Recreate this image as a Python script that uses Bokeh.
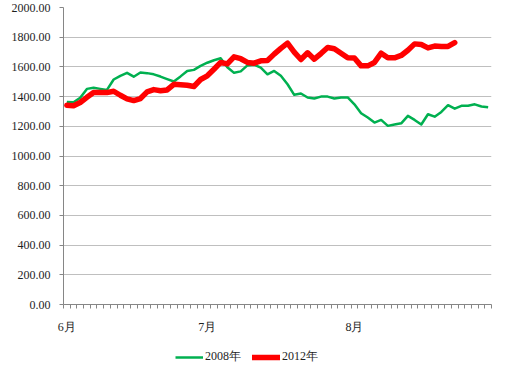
from bokeh.plotting import figure
from bokeh.layouts import column
from bokeh.models import (Range1d, FixedTicker, SingleIntervalTicker, NumeralTickFormatter,
                          Legend, LegendItem)
from bokeh.embed import file_html
from bokeh.resources import INLINE

# ---- data (trading-day index, June-August) ----
month_labels = ["6月", "7月", "8月"]
month_start_index = [0, 21, 43]
series_names = ["2008年", "2012年"]

price_2008 = [1364, 1362, 1392, 1452, 1459, 1452, 1445, 1515, 1540, 1560,
              1534, 1562, 1558, 1550, 1535, 1518, 1502, 1536, 1573, 1580,
              1607, 1628, 1645, 1658, 1598, 1560, 1570, 1610, 1615, 1595,
              1550, 1573, 1540, 1483, 1412, 1421, 1394, 1387, 1400, 1400,
              1387, 1394, 1394, 1348, 1288, 1259, 1225, 1243, 1203, 1212,
              1220, 1270, 1243, 1212, 1281, 1265, 1297, 1342, 1319, 1338,
              1338, 1348, 1333, 1328]

price_2012 = [1342, 1338, 1360, 1395, 1427, 1427, 1427, 1436, 1409, 1385,
              1373, 1387, 1432, 1447, 1440, 1445, 1483, 1480, 1476, 1468,
              1515, 1540, 1584, 1630, 1620, 1668, 1655, 1630, 1625, 1641,
              1643, 1686, 1725, 1760, 1700, 1650, 1695, 1652, 1690, 1731,
              1722, 1692, 1661, 1660, 1607, 1607, 1630, 1692, 1661, 1661,
              1677, 1712, 1755, 1751, 1728, 1740, 1737, 1738, 1764]

n_cat = len(price_2008)
x08 = [i + 0.5 for i in range(len(price_2008))]
x12 = [i + 0.5 for i in range(len(price_2012))]

FONT = "serif"
AXIS_C = "#868686"
TEXT_C = "#1e1e1e"
GREEN = "#00B050"
RED = "#FF0000"

# ---------------- main chart ----------------
p = figure(width=513, height=338, output_backend="svg", toolbar_location=None,
           x_range=Range1d(0, n_cat), y_range=Range1d(0, 2000),
           min_border_left=63, min_border_right=22, min_border_top=7, min_border_bottom=34)
p.outline_line_color = None
p.background_fill_color = "white"
p.border_fill_color = "white"

p.xgrid.visible = False
p.ygrid.grid_line_color = "#bfbfbf"
p.ygrid.grid_line_width = 1

# y axis
p.yaxis.ticker = SingleIntervalTicker(interval=200)
p.yaxis.formatter = NumeralTickFormatter(format="0.00")
p.yaxis.axis_line_color = AXIS_C
p.yaxis.major_tick_line_color = AXIS_C
p.yaxis.major_tick_out = 4
p.yaxis.major_tick_in = 0
p.yaxis.minor_tick_line_color = None
p.yaxis.major_label_standoff = 9
p.yaxis.major_label_text_font = FONT
p.yaxis.major_label_text_font_size = "12px"
p.yaxis.major_label_text_color = TEXT_C

# x axis
label_pos = [m + 0.5 for m in month_start_index]
p.xaxis.ticker = FixedTicker(ticks=label_pos, minor_ticks=list(range(n_cat + 1)))
p.xaxis.major_label_overrides = {pos: lab for pos, lab in zip(label_pos, month_labels)}
p.xaxis.axis_line_color = AXIS_C
p.xaxis.major_tick_line_color = None
p.xaxis.minor_tick_line_color = AXIS_C
p.xaxis.minor_tick_out = 4
p.xaxis.minor_tick_in = 0
p.xaxis.major_label_standoff = 9
p.xaxis.major_label_text_font = FONT
p.xaxis.major_label_text_font_size = "12px"
p.xaxis.major_label_text_color = TEXT_C

p.line(x08, price_2008, line_color=GREEN, line_width=2.5, line_join="round")
p.line(x12, price_2012, line_color=RED, line_width=5.5, line_join="round", line_cap="round")

# ---------------- legend strip below the chart ----------------
p2 = figure(width=513, height=33, output_backend="svg", toolbar_location=None,
            x_range=Range1d(0, 1), y_range=Range1d(0, 1),
            x_axis_location=None, y_axis_location=None,
            min_border_left=0, min_border_right=0, min_border_top=0, min_border_bottom=0)
p2.outline_line_color = None
p2.grid.visible = False
p2.background_fill_color = "white"
p2.border_fill_color = "white"

# legend-key renderers (their points lie outside the strip's visible range)
lg08 = p2.line([5, 6], [5, 5], line_color=GREEN, line_width=2.5)
lg12 = p2.line([5, 6], [5, 5], line_color=RED, line_width=5.5, line_cap="round")

legend = Legend(items=[LegendItem(label=series_names[0], renderers=[lg08]),
                       LegendItem(label=series_names[1], renderers=[lg12])],
                location=(112, 6), orientation="horizontal",
                border_line_color=None, background_fill_alpha=0,
                padding=0, margin=0, spacing=11, glyph_width=28, glyph_height=14,
                label_standoff=2, label_text_font=FONT, label_text_font_size="12px",
                label_text_color=TEXT_C)
p2.add_layout(legend)

layout = column(p, p2)

open("out.html", "w").write(file_html(layout, INLINE))
